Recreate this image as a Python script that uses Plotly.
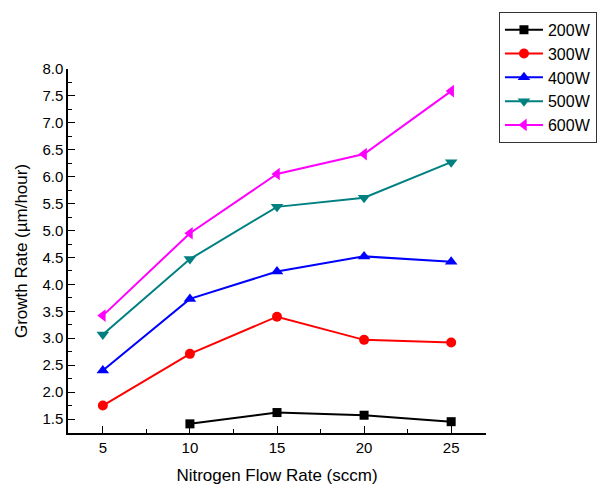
import plotly.graph_objects as go

flow = [5, 10, 15, 20, 25]
flow_200 = [10, 15, 20, 25]
rate_200 = [1.41, 1.62, 1.57, 1.45]
rate_300 = [1.75, 2.71, 3.40, 2.97, 2.92]
rate_400 = [2.40, 3.73, 4.24, 4.52, 4.42]
rate_500 = [3.07, 4.47, 5.44, 5.61, 6.27]
rate_600 = [3.42, 4.95, 6.05, 6.42, 7.59]

series = [
    ("200W", flow_200, rate_200, "black", "square", 9),
    ("300W", flow, rate_300, "#ff0000", "circle", 10),
    ("400W", flow, rate_400, "#0000ff", "triangle-up", 11),
    ("500W", flow, rate_500, "#008080", "triangle-down", 11),
    ("600W", flow, rate_600, "#ff00ff", "triangle-left", 11),
]

fig = go.Figure()
for name, xs, ys, color, sym, size in series:
    fig.add_trace(go.Scatter(
        x=xs, y=ys, name=name, mode="lines+markers",
        line=dict(color=color, width=2),
        marker=dict(symbol=sym, size=size, color=color),
    ))

font = "Liberation Sans, Arial, sans-serif"
fig.update_layout(
    template="none",
    width=616, height=485,
    margin=dict(l=68, r=130, t=69, b=52, autoexpand=False),
    plot_bgcolor="white", paper_bgcolor="white",
    font=dict(family=font, color="black", size=15),
    showlegend=True,
    legend=dict(
        x=1.031, y=1.157, xanchor="left", yanchor="top",
        bordercolor="#333333", borderwidth=1, bgcolor="white",
        font=dict(size=16, family=font),
        itemwidth=38,
    ),
)
fig.update_xaxes(
    automargin=False,
    range=[3, 27], tickvals=[5, 10, 15, 20, 25],
    showgrid=False, zeroline=False,
    showline=True, linecolor="black", linewidth=1.5,
    ticks="inside", ticklen=7, tickwidth=1.3, tickcolor="black",
    minor=dict(ticks="inside", ticklen=4, tickwidth=1.3, tickcolor="black", dtick=2.5, tick0=2.5, showgrid=False),
    tickfont=dict(size=15),
    title=dict(text="Nitrogen Flow Rate (sccm)", font=dict(size=17), standoff=14),
)
fig.update_yaxes(
    automargin=False,
    range=[1.24, 8.0], tick0=1.5, dtick=0.5, tickformat=".1f",
    showgrid=False, zeroline=False,
    showline=True, linecolor="black", linewidth=1.5,
    ticks="inside", ticklen=7, tickwidth=1.3, tickcolor="black",
    minor=dict(ticks="inside", ticklen=4, tickwidth=1.3, tickcolor="black", dtick=0.25, tick0=1.25, showgrid=False),
    tickfont=dict(size=15),
    title=dict(text="Growth Rate (µm/hour)", font=dict(size=17), standoff=10),
)

fig.write_html(
    "out.html",
    config={"displayModeBar": False},
    post_script="document.body.style.margin='0';document.body.style.padding='0';",
)
